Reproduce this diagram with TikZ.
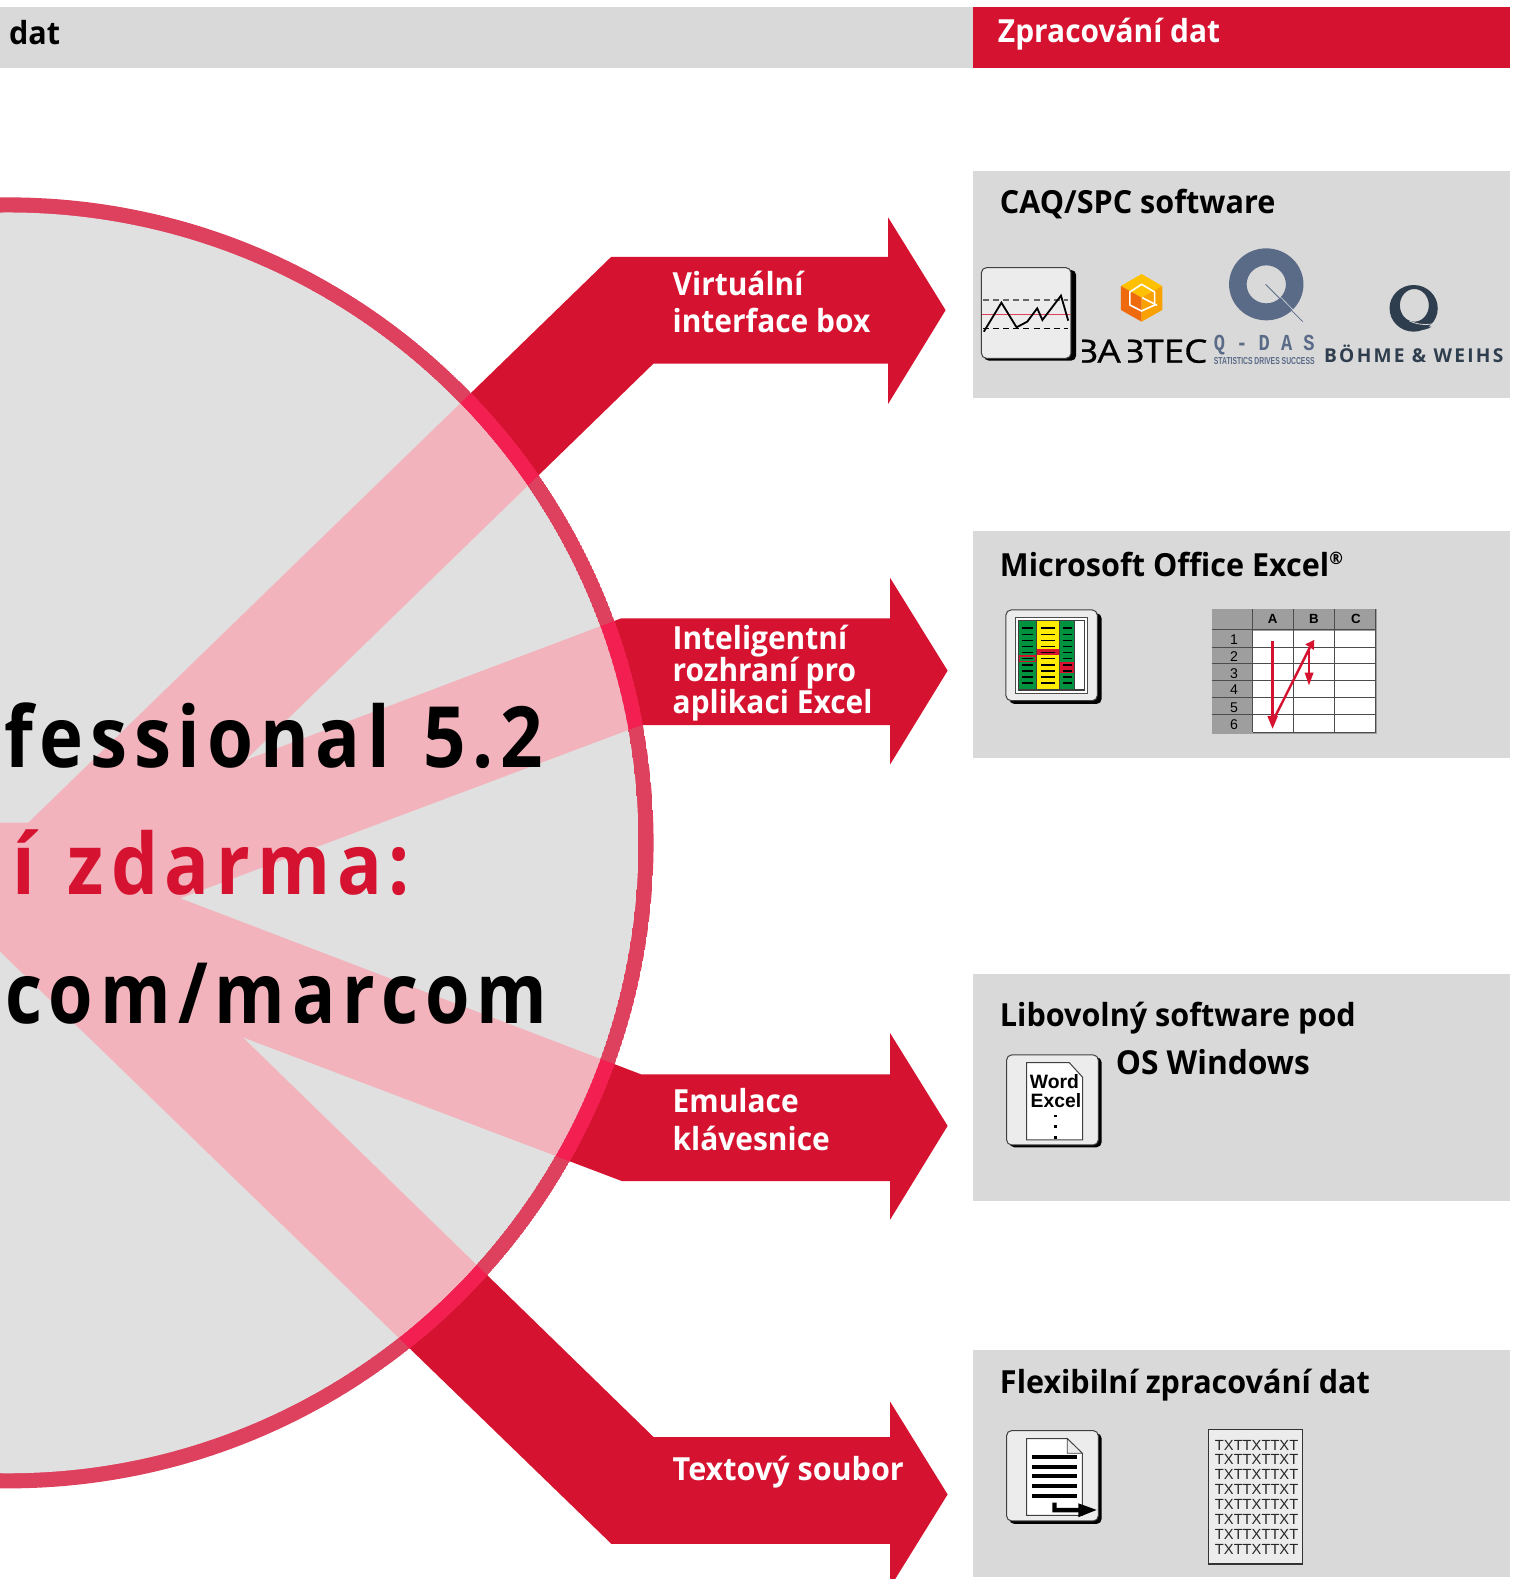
\documentclass[tikz,border=0pt]{standalone}
\usepackage{fontspec}
\usepackage{graphicx}
\setmainfont{Open Sans}
\newfontfamily\headfam[FakeStretch=0.96]{Open Sans}
\newfontfamily\lblfam[FakeStretch=0.94]{Open Sans}
\newfontfamily\bigfam[FakeStretch=0.88,LetterSpace=8]{Open Sans}
\newfontfamily\bigfamc[FakeStretch=0.85,LetterSpace=8.3]{Open Sans}
\newfontfamily\babfam[FakeBold=0.8]{Open Sans}
\newfontfamily\arial{Liberation Sans}
\newfontfamily\armono{Liberation Mono}
\definecolor{brandred}{HTML}{D5122F}
\definecolor{band}{HTML}{D9D9D9}
\definecolor{disc}{HTML}{E0E0E0}
\definecolor{pinkb}{HTML}{F2B3BC}
\definecolor{ringc}{HTML}{DE415E}
\definecolor{ringh}{HTML}{F21F50}
\definecolor{face}{HTML}{ECECEC}
\definecolor{slate}{HTML}{5A6B88}
\definecolor{navy}{HTML}{2F3E4E}
\definecolor{cellg}{HTML}{9E9E9E}
\definecolor{xgreen}{HTML}{00923F}
\definecolor{xyellow}{HTML}{FFEC00}
\definecolor{hexa}{HTML}{FFC000}
\definecolor{hexb}{HTML}{EE6A0C}
\definecolor{hexc}{HTML}{F9A100}
\tikzset{
  txt/.style={inner sep=0pt,outer sep=0pt,anchor=base west,align=left},
  head/.style={txt,font=\headfam\fontsize{15.8}{16}\selectfont\bfseries},
  label/.style={txt,text=white,font=\lblfam\fontsize{15.8}{16}\selectfont\bfseries},
  big/.style={txt,font=\bigfam\fontsize{42}{42}\selectfont\bfseries},
  bigc/.style={txt,font=\bigfamc\fontsize{42}{42}\selectfont\bfseries},
  iconface/.style={fill=face,draw=black!75,line width=0.5pt,rounded corners=2.5pt},
  iconshadow/.style={fill=black,rounded corners=2.5pt},
  docpage/.style={fill=white,draw=black!75,line width=0.5pt},
  zoomA/.style={shift={(959.2,228.4)},xscale=0.342,yscale=0.33099},
  zoomB/.style={scale=0.33099,shift={(2940,1770)}},
  zoomC/.style={scale=0.33099,shift={(2940,3090)}},
  zoomD/.style={scale=0.33099,shift={(2940,4230)}},
}
\def\arrowsP{(-5,817) -- (28,817) -- (607,255) -- (882,255) -- (882,216) -- (939,308) -- (882,401) -- (882,361) -- (649,361)
 -- (243.5,755) -- (617,614) -- (884,614) -- (884,574) -- (941,666) -- (884,759) -- (884,720) -- (637,720)
 -- (179,892) -- (637,1067) -- (884,1067) -- (884,1026) -- (941,1118) -- (884,1211) -- (884,1173) -- (618,1173)
 -- (241,1030) -- (649,1427) -- (884,1427) -- (884,1392) -- (941,1484) -- (884,1576) -- (884,1533) -- (607,1533)
 -- (-5,940) -- cycle}
\begin{document}
\begin{tikzpicture}[x=0.5pt,y=-0.5pt]
\path[use as bounding box,clip] (0,0) rectangle (1512.3,1568);
\fill[white] (0,0) rectangle (1512.3,1568);
% header
\fill[band] (0,7) rectangle (966,67.5);
\fill[brandred] (966,7) rectangle (1499.5,67.5);
\node[head] (hdat) at (9,44) {dat};
\node[label] (hproc) at (991,42) {Zpracování dat};
% panels
\fill[band] (966,170) rectangle (1499.5,395);
\fill[band] (966,527.5) rectangle (1499.5,753);
\fill[band] (966,967) rectangle (1499.5,1192.5);
\fill[band] (966,1341) rectangle (1499.5,1566);
% arrows
\fill[brandred] \arrowsP;
\begin{scope}
  \clip (8,837) circle (641);
  \fill[ringc] (8,837) circle (641);
  \fill[ringh] \arrowsP;
\end{scope}
\begin{scope}
  \clip (8,837) circle (626);
  \fill[disc] (8,837) circle (626);
  \fill[pinkb] \arrowsP;
\end{scope}
% big text
\node[big] (bigA) at (4,762) {fessional\hspace{3.5pt} 5.2};
\node[big,text=brandred] (bigB) at (12,888) {í\hspace{3.5pt} zdarma:};
\node[bigc] (bigC) at (5,1016) {com/marcom};
% arrow labels
\node[label] (lblA) at (668,330) {Virtuální\\[2.5pt]interface box};
\node[label] (lblB) at (668,709) {Inteligentní\\rozhraní pro\\aplikaci Excel};
\node[label] (lblC) at (668,1142) {Emulace\\[2.5pt]klávesnice};
\node[label,font=\headfam\fontsize{15.8}{16}\selectfont\bfseries] (lblD) at (668,1470) {Textový soubor};
% panel titles
\node[head] (t1) at (993,212) {CAQ/SPC software};
\node[head] (t2) at (993,572) {Microsoft Office Excel\raisebox{5.8pt}{\fontsize{8.5}{8.5}\selectfont ®}};
\node[head] (t3a) at (993,1019) {Libovolný software pod};
\node[head,font=\headfam\fontsize{16.4}{16.4}\selectfont\bfseries] (t3b) at (1108,1067) {OS Windows};
\node[head] (t4) at (993,1384) {Flexibilní zpracování dat};
% ---------- row 1 logos
\begin{scope}[zoomA]
  \fill[iconshadow] (52,120) rectangle (320,392);
  \filldraw[iconface] (45,113) rectangle (305,385);
  \draw[black!60,line width=0.5pt,dash pattern=on 3pt off 2pt] (50,210) -- (296,210);
  \draw[black,line width=0.5pt,dash pattern=on 3pt off 2pt] (50,296) -- (296,296);
  \draw[brandred!80,line width=0.6pt] (48,254) -- (302,254);
  \draw[black,line width=0.9pt] (52,305) -- (103,218) -- (147,292) -- (178,275) -- (207,235) -- (222,270) -- (276,197) -- (297,272);
  % Babtec mark
  \fill[hexa] (450,168) -- (510,132) -- (570,168) -- (510,203) -- cycle;
  \fill[hexb] (450,168) -- (510,203) -- (510,275) -- (450,240) -- cycle;
  \fill[hexc] (570,168) -- (570,240) -- (510,275) -- (510,203) -- cycle;
  \draw[white,line width=0.8pt] (510,163) -- (548,186) -- (548,225) -- (510,243) -- (476,225) -- (476,186) -- cycle;
  \draw[white,line width=0.8pt] (512,203) -- (555,226);
  \node[txt,font=\babfam] (babtec) at (315,398) {\resizebox{66pt}{11.6pt}{BABTEC}};
  % Q-DAS
  \fill[slate,even odd rule] (872,163) circle (108) (872,163) circle (57);
  \draw[slate,line width=0.4pt] (870,163) -- (978,275);
  \draw[band,line width=0.3pt] (905,192) -- (950,240);
  \node[txt,text=slate,font=\armono\bfseries] (qdas) at (720,361) {\resizebox{50pt}{7.6pt}{Q - D A S}};
  \begin{scope}
    \clip (700,378) rectangle (1030,400.6);
    \node[txt,text=slate,font=\arial\bfseries] (qdast) at (720,405) {\resizebox{50pt}{3.5pt}{STATISTICS DRIVES SUCCESS}};
  \end{scope}
  % Boehme & Weihs
  \fill[navy,even odd rule] (1300,235) circle (70) (1302,226) ellipse (42 and 49);
  \fill[navy] (1285,272) .. controls (1310,285) and (1330,290) .. (1352,290) .. controls (1325,308) and (1295,300) .. (1285,272) -- cycle;
  \draw[band,line width=0.4pt] (1288,273) .. controls (1310,283) and (1330,286) .. (1360,281);
  \node[txt,text=navy,font=\bfseries] (bw) at (1040,398) {\resizebox{89pt}{!}{\addfontfeature{LetterSpace=12}BÖHME \& WEIHS}};
\end{scope}
% stems of the two B letters are open in this logo
\fill[band] (1069,332) rectangle (1074.5,366);
\fill[band] (1115,332) rectangle (1120.5,366);
% ---------- row 2 icons
\begin{scope}[zoomB]
  \fill[iconshadow] (88,70) rectangle (365,342);
  \filldraw[iconface] (78,60) rectangle (352,332);
  \draw[black!70,fill=white,line width=0.4pt] (107,82) rectangle (323,310);
  \fill[black!75] (114,90) rectangle (315,302);
  \fill[xgreen] (117,92) rectangle (167,298);
  \fill[xyellow] (170,92) rectangle (238,298);
  \fill[xgreen] (240,92) rectangle (282,298);
  \fill[white] (284,92) rectangle (312,298);
  \fill[brandred] (170,178) rectangle (238,194);
  \fill[brandred] (240,216) rectangle (282,250);
  \draw[brandred,line width=0.6pt] (118,198) rectangle (166,214);
  \foreach \yy in {115,133.2,151.4,169.6,187.8,206,224.2,242.4,260.6,278.8}{
    \fill[black] (125,\yy-2.5) rectangle (160,\yy+2.5);
    \fill[black] (182,\yy-2.5) rectangle (226,\yy+2.5);
    \fill[black] (248,\yy-2.5) rectangle (276,\yy+2.5);
  }
  % sheet
  \fill[cellg] (695,58) rectangle (1190,433);
  \fill[white] (820,122) rectangle (1188,427);
  \foreach \xx in {818,942,1065,1188}{\draw[black!70,line width=0.5pt] (\xx,58) -- (\xx,427);}
  \foreach \yy in {120,172,222,272,322,374}{\draw[black!70,line width=0.5pt] (695,\yy) -- (1188,\yy);}
  \draw[black!70,line width=0.5pt] (818,427) -- (1188,427);
  \foreach \ch/\xx in {A/878,B/1002,C/1128}{\node[inner sep=0pt,font=\arial\bfseries\fontsize{6.6}{7}\selectfont] at (\xx,86) {\ch};}
  \foreach \nn/\yy in {1/148,2/199,3/250,4/300,5/352,6/403}{\node[inner sep=0pt,font=\arial\fontsize{7}{7}\selectfont] at (762,\yy) {\nn};}
  \draw[brandred,line width=1.2pt] (878,152) -- (878,390);
  \fill[brandred] (862,378) -- (894,378) -- (878,416) -- cycle;
  \draw[brandred,line width=1.2pt] (878,395) -- (990,172);
  \fill[brandred] (976,163) -- (1003,150) -- (1002,180) -- cycle;
  \draw[brandred,line width=1.2pt] (987,172) -- (987,260);
  \fill[brandred] (974,248) -- (1001,248) -- (987,286) -- cycle;
\end{scope}
% ---------- row 3 icon
\begin{scope}[zoomC]
  \fill[iconshadow] (88,82) rectangle (365,352);
  \filldraw[iconface] (80,75) rectangle (355,345);
  \filldraw[docpage] (140,98) -- (268,98) -- (308,142) -- (308,330) -- (140,330) -- cycle;
  \node[txt,font=\arial\bfseries\fontsize{9.6}{9.6}\selectfont] (word) at (150,175) {Word};
  \node[txt,font=\arial\bfseries\fontsize{9.6}{9.6}\selectfont] (excel) at (152,232) {Excel};
  \foreach \yy in {258,290,322}{\fill[black] (222,\yy-4) rectangle (231,\yy+4);}
\end{scope}
% ---------- row 4 icons
\begin{scope}[zoomD]
  \fill[iconshadow] (88,70) rectangle (365,342);
  \filldraw[iconface] (80,62) rectangle (355,333);
  \filldraw[docpage] (140,86) -- (262,86) -- (307,130) -- (307,316) -- (140,316) -- cycle;
  \filldraw[fill=face,draw=black!75,line width=0.4pt] (262,86) -- (262,130) -- (307,130) -- cycle;
  \foreach \yy in {142,171,199,229,258}{\fill[black] (157,\yy-6.5) rectangle (290,\yy+6.5);}
  \fill[black] (217,278) -- (230,278) -- (230,294) -- (300,294) -- (300,307) -- (217,307) -- cycle;
  \fill[black] (295,280) -- (350,300) -- (295,322) -- cycle;
  \filldraw[fill=face,draw=black!80,line width=0.7pt] (685,58) rectangle (968,462);
  \foreach \yy in {106,150,195,239,284,328,373,418}{
    \node[inner sep=0pt,text=black!85,font=\arial\fontsize{7.3}{7.3}\selectfont] at (830,\yy) {TXTTXTTXT};
  }
\end{scope}
\end{tikzpicture}
\end{document}
